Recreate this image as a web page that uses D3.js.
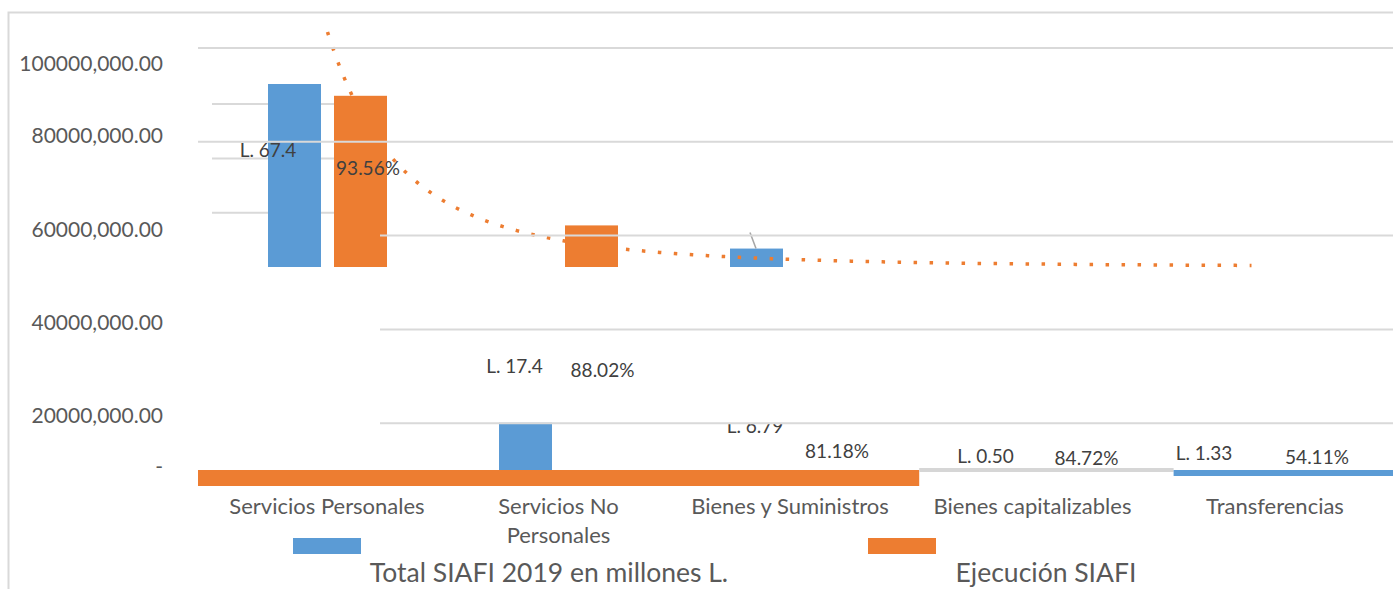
<!DOCTYPE html>
<html>
<head>
<meta charset="utf-8">
<script src="https://cdn.jsdelivr.net/npm/d3@7"></script>
<style>
body { margin: 0; background: #fff; }
text { font-family: Lato, "Noto Sans", sans-serif; }
</style>
</head>
<body>
<script>
// datos (millones de L.)
const categorias = ["Servicios Personales", "Servicios No Personales", "Bienes y Suministros", "Bienes capitalizables", "Transferencias"];
const totalSiafi = [67.4, 17.4, 6.79, 0.50, 1.33];
const ejecucion = [63.06, 15.32, 5.51, 0.42, 0.72];
const ejecucionPct = ["93.56%", "88.02%", "81.18%", "84.72%", "54.11%"];
const etiquetasTotal = ["L. 67.4", "L. 17.4", "L. 6.79", "L. 0.50", "L. 1.33"];
const series = ["Total SIAFI 2019 en millones L.", "Ejecución SIAFI"];
const yTicks = [0, 20000000, 40000000, 60000000, 80000000, 100000000];
const yTickLabels = ["-", "20000,000.00", "40000,000.00", "60000,000.00", "80000,000.00", "100000,000.00"];

const w = 1393, h = 589;
const blue = "#5b9bd5", orange = "#ed7d31", grid = "#d9d9d9";

const svg = d3.select("body").append("svg")
  .attr("width", w)
  .attr("height", h);

// marco
svg.append("rect")
  .attr("x", 8.5).attr("y", 12.5)
  .attr("width", w + 20).attr("height", h + 20)
  .attr("fill", "none").attr("stroke", grid).attr("stroke-width", 2);

// escalas
const x = d3.scaleBand().domain(categorias).range([212, 1367]);
const xAxis = d3.scaleBand().domain(categorias).range([198, 1400]);
const xText = d3.scaleLinear().domain([0, 2, 4]).range([327, 790, 1275]);
const xSub = d3.scaleBand().domain(["total", "ejec"]).range([-59.5, 59.5]).paddingInner(0.197);
const yTop = d3.scaleLinear().domain([0, 100]).range([267, -4.5]);
const yLow = d3.scaleLinear().domain([0, 100]).range([470, 198.5]);
const yMain = d3.scaleLinear().domain([0, 100000000]).range([517, 48]);
const yLabel = d3.scaleLinear().domain([0, 20000000, 80000000, 100000000]).range([467, 416, 136, 64]);

const cx = (c) => x(c) + x.bandwidth() / 2;

// lineas guia parciales
svg.append("g").selectAll("line")
  .data([20, 40, 60])
  .enter().append("line")
  .attr("x1", x.range()[0])
  .attr("x2", cx(categorias[0]) + xSub("ejec") + 20)
  .attr("y1", (d) => yTop(d)).attr("y2", (d) => yTop(d))
  .attr("stroke", grid).attr("stroke-width", 2);

// barras superiores azules
const upperTotal = [0, 2];
svg.append("g").selectAll("rect")
  .data(upperTotal)
  .enter().append("rect")
  .attr("x", (i) => cx(categorias[i]) + xSub("total"))
  .attr("y", (i) => yTop(totalSiafi[i]))
  .attr("width", xSub.bandwidth())
  .attr("height", (i) => yTop(0) - yTop(totalSiafi[i]))
  .attr("fill", blue);

// linea de conexion de etiqueta
svg.append("line")
  .attr("x1", cx(categorias[2]) + xSub("total") + 20)
  .attr("x2", cx(categorias[2]) + xSub("total") + 26)
  .attr("y1", yTop(totalSiafi[2]) - 16)
  .attr("y2", yTop(totalSiafi[2]))
  .attr("stroke", "#a6a6a6").attr("stroke-width", 1.5);

// linea de tendencia (potencial) de la ejecucion
const lx = ejecucion.map((d, i) => Math.log(i + 1));
const ly = ejecucion.map((d) => Math.log(d));
const mx = d3.mean(lx), my = d3.mean(ly);
const b = d3.sum(lx, (d, i) => (d - mx) * (ly[i] - my)) / d3.sum(lx, (d) => (d - mx) * (d - mx));
const a = Math.exp(my - b * mx);
const step = x.step();
const trend = d3.range(1, 5.001, 0.02).map((t) => [cx(categorias[0]) + (t - 1) * step, a * Math.pow(t, b)]);
svg.append("path")
  .datum(trend)
  .attr("d", d3.line().x((d) => d[0]).y((d) => yTop(d[1])).curve(d3.curveBasis))
  .attr("fill", "none")
  .attr("stroke", orange)
  .attr("stroke-width", 3.5)
  .attr("stroke-dasharray", "3.5,12.5");

// barras superiores naranjas
const upperEjec = [0, 1];
svg.append("g").selectAll("rect")
  .data(upperEjec)
  .enter().append("rect")
  .attr("x", (i) => cx(categorias[i]) + xSub("ejec"))
  .attr("y", (i) => yTop(ejecucion[i]))
  .attr("width", xSub.bandwidth())
  .attr("height", (i) => yTop(0) - yTop(ejecucion[i]))
  .attr("fill", orange);

// barra inferior
svg.append("rect")
  .attr("x", cx(categorias[1]) + xSub("total"))
  .attr("y", yLow(totalSiafi[1]))
  .attr("width", xSub.bandwidth())
  .attr("height", yLow(0) - yLow(totalSiafi[1]))
  .attr("fill", blue);

// lineas guia principales
svg.append("g").selectAll("line")
  .data(yTicks.slice(1))
  .enter().append("line")
  .attr("x1", (d) => d >= 80000000 ? 198 : 380)
  .attr("x2", w)
  .attr("y1", (d) => yMain(d)).attr("y2", (d) => yMain(d))
  .attr("stroke", grid).attr("stroke-width", 2);

// franjas inferiores
const bw = xAxis.bandwidth();
svg.append("rect")
  .attr("x", xAxis(categorias[0])).attr("y", yLow(0))
  .attr("width", xAxis(categorias[2]) + bw - xAxis(categorias[0])).attr("height", 16)
  .attr("fill", orange);
svg.append("rect")
  .attr("x", xAxis(categorias[3])).attr("y", yLow(0) - 2)
  .attr("width", bw + 14).attr("height", 4)
  .attr("fill", "#d6d6d6");
svg.append("rect")
  .attr("x", xAxis(categorias[4]) + 14).attr("y", yLow(0))
  .attr("width", bw).attr("height", 6)
  .attr("fill", blue);

// eje y
const yAx = svg.append("g")
  .attr("transform", "translate(163,0)")
  .call(d3.axisLeft(yLabel).tickValues(yTicks).tickFormat((d, i) => yTickLabels[i]).tickSize(0).tickPadding(0));
yAx.select(".domain").remove();
yAx.selectAll("text")
  .style("font-family", "Lato, sans-serif")
  .style("font-size", "21px")
  .attr("fill", "#595959");

// categorias
const cat = svg.append("g").selectAll("text")
  .data(categorias)
  .enter().append("text")
  .attr("x", (d, i) => xText(i))
  .attr("y", 514)
  .attr("text-anchor", "middle")
  .attr("fill", "#595959")
  .style("font-size", "22px")
  .text((d) => d);
cat.each(function (d, i) {
  const t = d3.select(this);
  if (this.getComputedTextLength() > 220) {
    const words = d.split(" ");
    t.text(null);
    t.append("tspan").attr("x", xText(i)).text(words.slice(0, 2).join(" "));
    t.append("tspan").attr("x", xText(i)).attr("dy", 29).text(words.slice(2).join(" "));
  }
});

// etiquetas de datos
svg.append("defs").append("clipPath").attr("id", "cut")
  .append("rect").attr("x", 0).attr("y", yMain(20000000) + 1).attr("width", w).attr("height", 100);

const totalLabelDx = [-59, -44, -35, -47, -71];
const pctLabelDx = [41, 44, 47, 54, 42];
const totalLabelY = [157, 373, 433, 463, 460];
const pctLabelY = [175, 377, 458, 465, 464];
svg.append("g").selectAll("text")
  .data(etiquetasTotal)
  .enter().append("text")
  .attr("x", (d, i) => xText(i) + totalLabelDx[i])
  .attr("y", (d, i) => totalLabelY[i])
  .attr("text-anchor", "middle")
  .attr("fill", "#404040")
  .attr("clip-path", (d, i) => i === 2 ? "url(#cut)" : null)
  .style("font-size", "19px")
  .text((d) => d);
svg.append("g").selectAll("text")
  .data(ejecucionPct)
  .enter().append("text")
  .attr("x", (d, i) => xText(i) + pctLabelDx[i])
  .attr("y", (d, i) => pctLabelY[i])
  .attr("text-anchor", "middle")
  .attr("fill", "#404040")
  .style("font-size", "19px")
  .text((d) => d);

// leyenda
const legendSwatchX = [293, 868];
const legendTextX = [549, 1046];
svg.append("g").selectAll("rect")
  .data(series)
  .enter().append("rect")
  .attr("x", (d, i) => legendSwatchX[i])
  .attr("y", 538)
  .attr("width", 68).attr("height", 16)
  .attr("fill", (d, i) => i === 0 ? blue : orange);
svg.append("g").selectAll("text")
  .data(series)
  .enter().append("text")
  .attr("x", (d, i) => legendTextX[i])
  .attr("y", 582)
  .attr("text-anchor", "middle")
  .attr("fill", "#595959")
  .style("font-size", "26.5px")
  .text((d) => d);
</script>
</body>
</html>
